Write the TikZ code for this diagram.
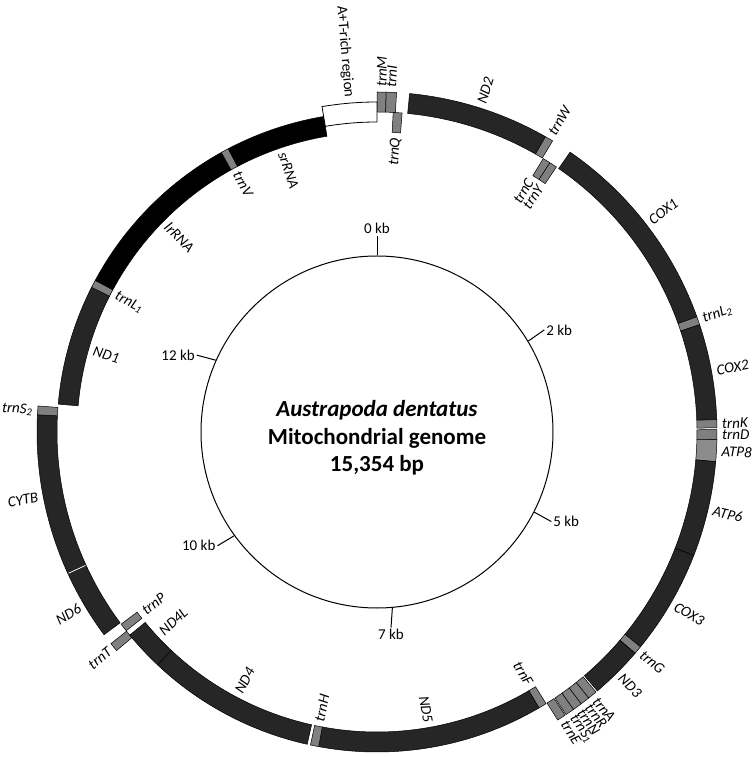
\documentclass[tikz,border=0pt]{standalone}
\usepackage{fontspec}
\setmainfont{Carlito}
\tikzset{
  prot/.style={fill=black!85, draw=black, line width=0.5pt},
  rrna/.style={fill=black, draw=black, line width=0.5pt},
  trna/.style={fill=black!50, draw=black, line width=0.5pt},
  atpe/.style={fill=black!45, draw=black, line width=0.5pt},
  ncr/.style={fill=white, draw=black, line width=0.8pt},
  glab/.style={font=\fontsize{15}{18}\selectfont\itshape, inner sep=1pt},
  tlab/.style={font=\fontsize{15}{18}\selectfont, inner sep=1.5pt},
  tickln/.style={line width=1pt},
}
% arc segment: theta1, theta2 (clockwise from top), r1, r2, style
\newcommand\seg[5]{\path[#5] ({90-#1}:#4pt) arc[start angle={90-#1}, end angle={90-#2}, radius=#4pt] -- ({90-#2}:#3pt) arc[start angle={90-#2}, end angle={90-#1}, radius=#3pt] -- cycle;}
\newcommand\outg[3]{\seg{#1}{#2}{320}{340}{#3}}
\newcommand\ing[3]{\seg{#1}{#2}{300}{320}{#3}}
\newcommand\outlab[3]{%
  \pgfmathsetmacro\gth{#2}%
  \ifdim\gth pt<180pt
    \pgfmathsetmacro\grot{90-\gth}\def\ganc{west}%
  \else
    \pgfmathsetmacro\grot{270-\gth}\def\ganc{east}%
  \fi
  \node[glab,anchor=\ganc,rotate=\grot] (#1) at ({90-\gth}:344pt) {#3};}
\newcommand\inlab[3]{%
  \pgfmathsetmacro\gth{#2}%
  \ifdim\gth pt<180pt
    \pgfmathsetmacro\grot{90-\gth}\def\ganc{east}%
  \else
    \pgfmathsetmacro\grot{270-\gth}\def\ganc{west}%
  \fi
  \node[glab,anchor=\ganc,rotate=\grot] (#1) at ({90-\gth}:296pt) {#3};}
\begin{document}
\begin{tikzpicture}[x=1pt,y=1pt]
\useasboundingbox (-377,-325) rectangle (378,432);
% ---------- outer track (J strand)
\outg{0.0}{1.55}{trna}
\outg{1.55}{3.3}{trna}
\outg{5.5}{29.7}{prot}
\outg{29.7}{31.1}{trna}
\outg{34.6}{70.2}{prot}
\outg{70.2}{71.6}{trna}
\outg{71.6}{87.9}{prot}
\outg{87.9}{89.3}{trna}
\outg{89.6}{91.3}{trna}
\outg{91.3}{95.0}{atpe}
\outg{95.0}{111.3}{prot}
\outg{111.3}{129.2}{prot}
\outg{129.2}{130.6}{trna}
\outg{130.6}{139.6}{prot}
\outg{139.9}{141.5}{trna}
\outg{141.5}{143.1}{trna}
\outg{143.1}{144.7}{trna}
\outg{144.7}{146.2}{trna}
\outg{146.4}{147.9}{trna}
\outg{230.0}{231.5}{trna}
\outg{233.4}{245.4}{prot}
\outg{245.4}{272.9}{prot}
\outg{272.9}{274.4}{trna}
\draw[white, line width=0.8pt] ({90-245.4}:320.6pt) -- ({90-245.4}:339.4pt);
% ---------- inner track (N strand)
\ing{2.9}{4.5}{trna}
\ing{31.3}{32.7}{trna}
\ing{32.7}{34.1}{trna}
\ing{148.1}{149.6}{trna}
\ing{149.6}{190.5}{prot}
\ing{190.5}{192.0}{trna}
\ing{192.6}{223.3}{prot}
\ing{223.3}{230.6}{prot}
\ing{231.6}{233.1}{trna}
\ing{275.0}{296.9}{prot}
\ing{296.9}{298.3}{trna}
\ing{298.3}{330.9}{rrna}
\ing{330.9}{332.3}{trna}
\ing{332.3}{350.4}{rrna}
% ---------- control region
\seg{350.4}{360}{310}{330}{ncr}
% ---------- labels outer
\outlab{l-trnM}{0.78}{trnM}
\outlab{l-trnI}{2.4}{trnI}
\outlab{l-ND2}{17.6}{ND2}
\outlab{l-trnW}{30.4}{trnW}
\outlab{l-COX1}{52.4}{COX1}
\outlab{l-trnL2}{70.9}{trnL\textsubscript{2}}
\outlab{l-COX2}{79.75}{COX2}
\outlab{l-trnK}{88.6}{trnK}
\outlab{l-trnD}{90.45}{trnD}
\outlab{l-ATP8}{93.15}{ATP8}
\outlab{l-ATP6}{103.2}{ATP6}
\outlab{l-COX3}{120.25}{COX3}
\outlab{l-trnG}{129.9}{trnG}
\outlab{l-ND3}{135.1}{ND3}
\outlab{l-trnA}{140.7}{trnA}
\outlab{l-trnR}{142.3}{trnR}
\outlab{l-trnN}{143.9}{trnN}
\outlab{l-trnS1}{145.45}{trnS\textsubscript{1}}
\outlab{l-trnE}{147.15}{trnE}
\outlab{l-trnT}{230.75}{trnT}
\outlab{l-ND6}{239.4}{ND6}
\outlab{l-CYTB}{259.1}{CYTB}
\outlab{l-trnS2}{273.6}{trnS\textsubscript{2}}
% ---------- labels inner
\inlab{l-trnQ}{3.7}{trnQ}
\inlab{l-trnC}{31.3}{trnC}
\inlab{l-trnY}{33.6}{trnY}
\inlab{l-trnF}{148.85}{trnF}
\inlab{l-ND5}{170}{ND5}
\inlab{l-trnH}{191.25}{trnH}
\inlab{l-ND4}{208}{ND4}
\inlab{l-ND4L}{227}{ND4L}
\inlab{l-trnP}{232.35}{trnP}
\inlab{l-ND1}{285.9}{ND1}
\inlab{l-trnL1}{297.6}{trnL\textsubscript{1}}
\inlab{l-lrRNA}{314.6}{lrRNA}
\inlab{l-trnV}{331.6}{trnV}
\inlab{l-srRNA}{341.3}{srRNA}
\node[tlab, anchor=east, rotate=-85.2] (l-ncr) at ({90-355.2}:334pt) {A+T-rich region};
% ---------- inner scale circle
\node[circle, draw, line width=1pt, minimum size=352pt, inner sep=0pt] (inner) at (0,0) {};
\draw[tickln] (inner.90) -- (90:196pt) node[tlab, anchor=south] (k0) {0 kb};
\draw[tickln] (inner.31.4) -- (31.4:196pt) node[tlab, anchor=west] (k2) {2 kb};
\draw[tickln] (inner.-27.2) -- (-27.2:196pt) node[tlab, anchor=west] (k5) {5 kb};
\draw[tickln] (inner.-85.9) -- (-85.9:196pt) node[tlab, anchor=north] (k7) {7 kb};
\draw[tickln] (inner.-144.5) -- (-144.5:196pt) node[tlab, anchor=east] (k10) {10 kb};
\draw[tickln] (inner.156.9) -- (156.9:196pt) node[tlab, anchor=east] (k12) {12 kb};
\node[align=center, font=\fontsize{23}{27.5}\selectfont\bfseries] (title) at (0,-6) {\textit{Austrapoda dentatus}\\Mitochondrial genome\\15,354 bp};
\end{tikzpicture}
\end{document}
